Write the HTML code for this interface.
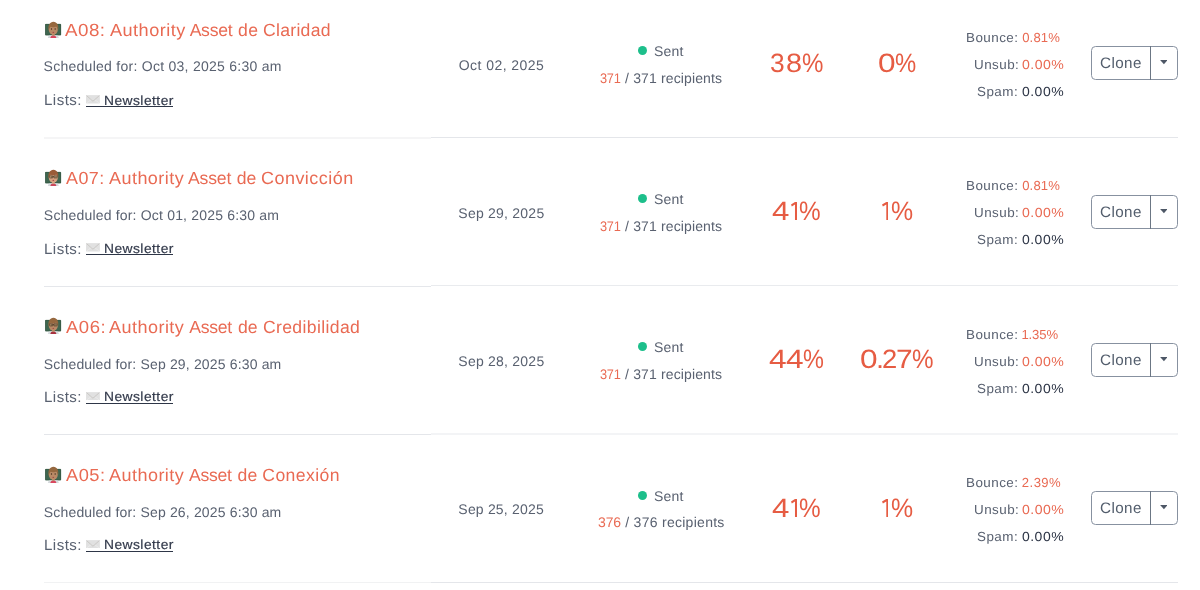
<!DOCTYPE html><html><head><meta charset="utf-8"><title>Broadcasts</title><style>
*{margin:0;padding:0;box-sizing:border-box}
html,body{width:1200px;height:590px;overflow:hidden;background:#fff}
#w{position:absolute;left:0;top:0;width:1200px;height:590px;will-change:transform;filter:blur(.35px)}
body{font-family:"Liberation Sans",sans-serif;color:#596170;position:relative;text-rendering:geometricPrecision}
.row{position:absolute;left:0;width:1200px;height:149px}
.row>*,.x{position:absolute;white-space:nowrap;line-height:1;transform-origin:0 0}
.emo{left:43.7px;top:21px;width:18px;height:18px}
.t{color:#e96a53}
.env{left:86.4px;top:95.2px;width:13.9px;height:8.6px}
.n{color:#333a4b;-webkit-text-stroke:0.2px #333a4b}
.u{left:86px;top:106px;width:87.3px;height:1px;background:#2e3647}
.dot{left:637.7px;top:46px;width:9px;height:9px;border-radius:50%;background:#1dbf8b}
.r{color:#e96a53}
.o,.c{color:#e65c43}
.v{color:#e96a53}
.v.dk{color:#2e3647}
.btn{left:1091px;top:46px;width:87px;height:34px;border:1px solid #8791a0;border-radius:4.5px}
.dv{left:1149.8px;top:46px;height:34px;width:1.3px;background:#6b7684}
.bt{color:#525d6c}
.car{left:1159.5px;top:60px;width:7.8px;height:4.2px}
.hl{position:absolute;height:1px;background:#ececee}
.hr{position:absolute;height:1px;background:#e6e7ea}
</style></head><body><div id="w">
<div class="row" style="top:0.0px">
<svg class="emo" viewBox="0 0 36 36"><rect x="2.400" y="6" width="31.600" height="22.400" rx="1" fill="#3f6650"/><rect x="3" y="6.600" width="30.400" height="21.200" rx=".8" fill="none" stroke="#33543f" stroke-width="1.200"/><path d="M7.800 33.800c.4-3 2-5 4.400-5.400h13c2.400.4 4 2.400 4.400 5.400z" fill="#d5d9dc"/><path d="M12.600 33.800c.4-3.400 2.600-5 6.100-5s5.700 1.600 6.100 5z" fill="#d9475f"/><path d="M15.800 24.500h5.800v4.700c-1.800 1.200-4 1.200-5.800 0z" fill="#b98a66"/><ellipse cx="18.600" cy="17.400" rx="9" ry="9.800" fill="#b98a66"/><path d="M9.200 19.500C7.400 8.500 11.800 1.600 18.800 1.600c7.200 0 11.400 6.900 9.400 17.900-.5-3.700-1.500-6.500-3.200-8.300-3.600 1.500-9.200 1.300-11.800.1-2 1.900-3.300 4.500-4 8.200z" fill="#96683f"/><ellipse cx="15" cy="15.800" rx="1.300" ry="1.500" fill="#3d2a1c"/><ellipse cx="22.300" cy="15.800" rx="1.300" ry="1.500" fill="#3d2a1c"/><ellipse cx="18.600" cy="22.800" rx="1.600" ry="1.100" fill="#a84a48"/></svg>
<svg class="env" viewBox="0 0 28 17"><rect x=".3" y=".3" width="27.400" height="16.400" rx="1.400" fill="#e1e1e1" stroke="#d6d6d6" stroke-width=".6"/><path d="M1 16.200l10-7.400M27 16.200l-10-7.400" fill="none" stroke="#f0f0f0" stroke-width="1.200"/><path d="M1 1l13 11.400L27 1" fill="none" stroke="#c2c0bc" stroke-width="1.500" stroke-linejoin="round"/></svg><div class="u" style="top:106.00px"></div><div class="dot"></div><div class="btn" style="top:46.00px"></div><div class="dv" style="top:46.00px"></div><svg class="car" style="top:60.40px" viewBox="0 0 9 5"><path d="M0 0h9L4.500 5z" fill="#4d5766"/></svg>
</div>
<div class="x t" id="e0_0" style="left:65.48px;top:22px;font-size:17.6px;letter-spacing:0.450px;transform:scaleX(1.067)">A08:</div>
<div class="x t" id="e0_1" style="left:109.50px;top:22px;font-size:17.6px;letter-spacing:0.450px;transform:scaleX(1.030)">Authority</div>
<div class="x t" id="e0_2" style="left:189.66px;top:22px;font-size:17.6px;letter-spacing:-0.279px">Asset</div>
<div class="x t" id="e0_3" style="left:238.02px;top:22px;font-size:17.6px;letter-spacing:0.402px">de</div>
<div class="x t" id="e0_4" style="left:262.91px;top:22px;font-size:17.6px;letter-spacing:0.309px">Claridad</div>
<div class="x s" id="e0_5" style="left:43.58px;top:59px;font-size:14px;letter-spacing:0.267px">Scheduled for: Oct 03, 2025 6:30 am</div>
<div class="x d" id="e0_6" style="left:458.75px;top:58px;font-size:14px;letter-spacing:0.439px">Oct 02, 2025</div>
<div class="x rc r" id="e0_7" style="left:599.59px;top:71px;font-size:14px;letter-spacing:-0.300px;transform:scaleX(0.913)">371</div>
<div class="x rc" id="e0_8" style="left:625.10px;top:71px;font-size:14px;letter-spacing:0.132px">/ 371 recipients</div>
<div class="x v y1" id="e0_9" style="left:1022.14px;top:31px;font-size:13.1px;letter-spacing:0.180px">0.81%</div>
<div class="x l" id="e0_10" style="left:43.89px;top:93px;font-size:15px;letter-spacing:0.450px;transform:scaleX(1.007)">Lists:</div>
<div class="x n" id="e0_11" style="left:103.50px;top:94px;font-size:13.2px;letter-spacing:0.450px;transform:scaleX(1.046)">Newsletter</div>
<div class="x st" id="e0_12" style="left:653.98px;top:44px;font-size:14px;letter-spacing:0.204px">Sent</div>
<div class="x k y1" id="e0_13" style="left:966.14px;top:31px;font-size:13.1px;letter-spacing:0.450px;transform:scaleX(1.025)">Bounce:</div>
<div class="x k y2" id="e0_14" style="left:973.61px;top:58px;font-size:13.1px;letter-spacing:0.450px;transform:scaleX(1.024)">Unsub:</div>
<div class="x k y3" id="e0_15" style="left:977.19px;top:85px;font-size:13.1px;letter-spacing:0.450px;transform:scaleX(1.025)">Spam:</div>
<div class="x v y2" id="e0_16" style="left:1022.34px;top:58px;font-size:13.1px;letter-spacing:0.450px;transform:scaleX(1.076)">0.00%</div>
<div class="x v dk y3" id="e0_17" style="left:1022.24px;top:85px;font-size:13.1px;letter-spacing:0.450px;transform:scaleX(1.068)">0.00%</div>
<div class="x bt" id="e0_18" style="left:1100.00px;top:56px;font-size:15.2px;letter-spacing:0.426px">Clone</div>
<div class="x o" id="e0_19" style="left:770.25px;top:50px;font-size:26.5px;transform:scaleX(0.995)">3</div>
<div class="x o" id="e0_20" style="left:785.70px;top:50px;font-size:26.5px;transform:scaleX(1.086)">8</div>
<div class="x o" id="e0_21" style="left:801.53px;top:50px;font-size:26.5px;transform:scaleX(0.908)">%</div>
<div class="x c" id="e0_22" style="left:878.11px;top:50px;font-size:26.5px;transform:scaleX(1.192)">0</div>
<div class="x c" id="e0_23" style="left:895.00px;top:50px;font-size:26.5px;transform:scaleX(0.899)">%</div>
<div class="row" style="top:148.22px">
<svg class="emo" viewBox="0 0 36 36"><rect x="2.400" y="6" width="31.600" height="22.400" rx="1" fill="#3f6650"/><rect x="3" y="6.600" width="30.400" height="21.200" rx=".8" fill="none" stroke="#33543f" stroke-width="1.200"/><path d="M7.800 33.800c.4-3 2-5 4.400-5.400h13c2.400.4 4 2.400 4.400 5.400z" fill="#d5d9dc"/><path d="M12.600 33.800c.4-3.400 2.600-5 6.100-5s5.700 1.600 6.100 5z" fill="#c9485c"/><path d="M15.800 24.500h5.800v4.700c-1.800 1.200-4 1.200-5.800 0z" fill="#d6a280"/><ellipse cx="18.600" cy="17.400" rx="9" ry="9.800" fill="#d6a280"/><path d="M9.200 19.500C7.400 8.500 11.800 1.600 18.800 1.600c7.200 0 11.400 6.900 9.400 17.900-.5-3.700-1.500-6.500-3.200-8.300-3.600 1.500-9.200 1.300-11.800.1-2 1.900-3.300 4.500-4 8.200z" fill="#9a5c38"/><ellipse cx="15" cy="15.800" rx="1.300" ry="1.500" fill="#3d2a1c"/><ellipse cx="22.300" cy="15.800" rx="1.300" ry="1.500" fill="#3d2a1c"/><ellipse cx="18.600" cy="22.800" rx="1.600" ry="1.100" fill="#a84a48"/><path d="M11.400 13.700h6v4.200h-6zM19.900 13.700h6v4.200h-6zM17.400 15.100h2.500" fill="#efe2a4" fill-opacity=".28" stroke="#3a2a1b" stroke-width="1.200"/></svg>
<svg class="env" viewBox="0 0 28 17"><rect x=".3" y=".3" width="27.400" height="16.400" rx="1.400" fill="#e1e1e1" stroke="#d6d6d6" stroke-width=".6"/><path d="M1 16.200l10-7.400M27 16.200l-10-7.400" fill="none" stroke="#f0f0f0" stroke-width="1.200"/><path d="M1 1l13 11.400L27 1" fill="none" stroke="#c2c0bc" stroke-width="1.500" stroke-linejoin="round"/></svg><div class="u" style="top:106.18px"></div><div class="dot"></div><div class="btn" style="top:46.78px"></div><div class="dv" style="top:46.78px"></div><svg class="car" style="top:61.18px" viewBox="0 0 9 5"><path d="M0 0h9L4.500 5z" fill="#4d5766"/></svg>
</div>
<div class="x t" id="e1_0" style="left:66.48px;top:170px;font-size:17.6px;letter-spacing:0.450px;transform:scaleX(1.019)">A07:</div>
<div class="x t" id="e1_1" style="left:108.61px;top:170px;font-size:17.6px;letter-spacing:0.450px;transform:scaleX(1.023)">Authority</div>
<div class="x t" id="e1_2" style="left:187.99px;top:170px;font-size:17.6px;letter-spacing:-0.161px">Asset</div>
<div class="x t" id="e1_3" style="left:236.80px;top:170px;font-size:17.6px;letter-spacing:-0.031px">de</div>
<div class="x t" id="e1_4" style="left:261.17px;top:170px;font-size:17.6px;letter-spacing:0.450px;transform:scaleX(1.023)">Convicción</div>
<div class="x s" id="e1_5" style="left:43.87px;top:208px;font-size:14px;letter-spacing:0.182px">Scheduled for: Oct 01, 2025 6:30 am</div>
<div class="x d" id="e1_6" style="left:458.37px;top:206px;font-size:14px;letter-spacing:0.228px">Sep 29, 2025</div>
<div class="x rc r" id="e1_7" style="left:599.59px;top:219px;font-size:14px;letter-spacing:-0.300px;transform:scaleX(0.913)">371</div>
<div class="x rc" id="e1_8" style="left:625.10px;top:219px;font-size:14px;letter-spacing:0.132px">/ 371 recipients</div>
<div class="x v y1" id="e1_9" style="left:1022.14px;top:179px;font-size:13.1px;letter-spacing:0.180px">0.81%</div>
<div class="x l" id="e1_10" style="left:43.89px;top:242px;font-size:15px;letter-spacing:0.450px;transform:scaleX(1.007)">Lists:</div>
<div class="x n" id="e1_11" style="left:103.50px;top:242px;font-size:13.2px;letter-spacing:0.450px;transform:scaleX(1.046)">Newsletter</div>
<div class="x st" id="e1_12" style="left:653.98px;top:192px;font-size:14px;letter-spacing:0.204px">Sent</div>
<div class="x k y1" id="e1_13" style="left:966.14px;top:179px;font-size:13.1px;letter-spacing:0.450px;transform:scaleX(1.025)">Bounce:</div>
<div class="x k y2" id="e1_14" style="left:973.61px;top:206px;font-size:13.1px;letter-spacing:0.450px;transform:scaleX(1.024)">Unsub:</div>
<div class="x k y3" id="e1_15" style="left:977.19px;top:233px;font-size:13.1px;letter-spacing:0.450px;transform:scaleX(1.025)">Spam:</div>
<div class="x v y2" id="e1_16" style="left:1022.34px;top:206px;font-size:13.1px;letter-spacing:0.450px;transform:scaleX(1.076)">0.00%</div>
<div class="x v dk y3" id="e1_17" style="left:1022.24px;top:233px;font-size:13.1px;letter-spacing:0.450px;transform:scaleX(1.068)">0.00%</div>
<div class="x bt" id="e1_18" style="left:1100.00px;top:205px;font-size:15.2px;letter-spacing:0.426px">Clone</div>
<div class="x o" id="e1_19" style="left:771.72px;top:198px;font-size:26.5px;transform:scaleX(1.177)">4</div>
<svg class="x" id="e1_20" style="left:790.60px;top:201.60px;width:6.30px;height:18.4px" viewBox="0 0 6.8 18.4" preserveAspectRatio="none"><path d="M4.300 0H6.800V18.400H4.300V2.600L.9 4.600 0 2.600z" fill="#e65c43"/></svg>
<div class="x o" id="e1_21" style="left:798.50px;top:198px;font-size:26.5px;transform:scaleX(0.917)">%</div>
<svg class="x" id="e1_22" style="left:881.50px;top:201.60px;width:6.80px;height:18.4px" viewBox="0 0 6.8 18.4" preserveAspectRatio="none"><path d="M4.300 0H6.800V18.400H4.300V2.600L.9 4.600 0 2.600z" fill="#e65c43"/></svg>
<div class="x c" id="e1_23" style="left:890.78px;top:198px;font-size:26.5px;transform:scaleX(0.938)">%</div>
<div class="row" style="top:296.44px">
<svg class="emo" viewBox="0 0 36 36"><rect x="2.400" y="6" width="31.600" height="22.400" rx="1" fill="#3f6650"/><rect x="3" y="6.600" width="30.400" height="21.200" rx=".8" fill="none" stroke="#33543f" stroke-width="1.200"/><path d="M7.800 33.800c.4-3 2-5 4.400-5.400h13c2.400.4 4 2.400 4.400 5.400z" fill="#d5d9dc"/><path d="M12.600 33.800c.4-3.400 2.600-5 6.100-5s5.700 1.600 6.100 5z" fill="#a8323f"/><path d="M15.800 24.500h5.800v4.700c-1.800 1.200-4 1.200-5.800 0z" fill="#b98a66"/><ellipse cx="18.600" cy="17.400" rx="9" ry="9.800" fill="#b98a66"/><path d="M9.200 19.500C7.400 8.500 11.800 1.600 18.800 1.600c7.200 0 11.400 6.900 9.400 17.900-.5-3.700-1.500-6.500-3.200-8.300-3.600 1.500-9.200 1.300-11.800.1-2 1.900-3.300 4.500-4 8.200z" fill="#96683f"/><ellipse cx="15" cy="15.800" rx="1.300" ry="1.500" fill="#3d2a1c"/><ellipse cx="22.300" cy="15.800" rx="1.300" ry="1.500" fill="#3d2a1c"/><ellipse cx="18.600" cy="22.800" rx="1.600" ry="1.100" fill="#a84a48"/><path d="M11.400 13.700h6v4.200h-6zM19.900 13.700h6v4.200h-6zM17.400 15.100h2.500" fill="#efe2a4" fill-opacity=".28" stroke="#3a2a1b" stroke-width="1.200"/></svg>
<svg class="env" viewBox="0 0 28 17"><rect x=".3" y=".3" width="27.400" height="16.400" rx="1.400" fill="#e1e1e1" stroke="#d6d6d6" stroke-width=".6"/><path d="M1 16.200l10-7.400M27 16.200l-10-7.400" fill="none" stroke="#f0f0f0" stroke-width="1.200"/><path d="M1 1l13 11.400L27 1" fill="none" stroke="#c2c0bc" stroke-width="1.500" stroke-linejoin="round"/></svg><div class="u" style="top:106.56px"></div><div class="dot"></div><div class="btn" style="top:46.56px"></div><div class="dv" style="top:46.56px"></div><svg class="car" style="top:60.96px" viewBox="0 0 9 5"><path d="M0 0h9L4.500 5z" fill="#4d5766"/></svg>
</div>
<div class="x t" id="e2_0" style="left:65.51px;top:319px;font-size:17.6px;letter-spacing:0.450px;transform:scaleX(1.054)">A06:</div>
<div class="x t" id="e2_1" style="left:109.00px;top:319px;font-size:17.6px;letter-spacing:0.450px;transform:scaleX(1.025)">Authority</div>
<div class="x t" id="e2_2" style="left:189.23px;top:319px;font-size:17.6px;letter-spacing:-0.256px">Asset</div>
<div class="x t" id="e2_3" style="left:238.02px;top:319px;font-size:17.6px;letter-spacing:0.052px">de</div>
<div class="x t" id="e2_4" style="left:262.91px;top:319px;font-size:17.6px;letter-spacing:0.372px">Credibilidad</div>
<div class="x s" id="e2_5" style="left:43.87px;top:357px;font-size:14px;letter-spacing:0.161px">Scheduled for: Sep 29, 2025 6:30 am</div>
<div class="x d" id="e2_6" style="left:458.37px;top:354px;font-size:14px;letter-spacing:0.228px">Sep 28, 2025</div>
<div class="x rc r" id="e2_7" style="left:599.59px;top:367px;font-size:14px;letter-spacing:-0.300px;transform:scaleX(0.913)">371</div>
<div class="x rc" id="e2_8" style="left:625.10px;top:367px;font-size:14px;letter-spacing:0.132px">/ 371 recipients</div>
<div class="x v y1" id="e2_9" style="left:1021.45px;top:328px;font-size:13.1px;letter-spacing:-0.121px">1.35%</div>
<div class="x l" id="e2_10" style="left:43.89px;top:390px;font-size:15px;letter-spacing:0.450px;transform:scaleX(1.007)">Lists:</div>
<div class="x n" id="e2_11" style="left:103.50px;top:390px;font-size:13.2px;letter-spacing:0.450px;transform:scaleX(1.046)">Newsletter</div>
<div class="x st" id="e2_12" style="left:653.98px;top:340px;font-size:14px;letter-spacing:0.204px">Sent</div>
<div class="x k y1" id="e2_13" style="left:966.14px;top:328px;font-size:13.1px;letter-spacing:0.450px;transform:scaleX(1.025)">Bounce:</div>
<div class="x k y2" id="e2_14" style="left:973.61px;top:355px;font-size:13.1px;letter-spacing:0.450px;transform:scaleX(1.024)">Unsub:</div>
<div class="x k y3" id="e2_15" style="left:977.19px;top:382px;font-size:13.1px;letter-spacing:0.450px;transform:scaleX(1.025)">Spam:</div>
<div class="x v y2" id="e2_16" style="left:1022.34px;top:355px;font-size:13.1px;letter-spacing:0.450px;transform:scaleX(1.076)">0.00%</div>
<div class="x v dk y3" id="e2_17" style="left:1022.24px;top:382px;font-size:13.1px;letter-spacing:0.450px;transform:scaleX(1.068)">0.00%</div>
<div class="x bt" id="e2_18" style="left:1100.00px;top:353px;font-size:15.2px;letter-spacing:0.426px">Clone</div>
<div class="x o" id="e2_19" style="left:769.19px;top:346px;font-size:26.5px;transform:scaleX(1.195)">4</div>
<div class="x o" id="e2_20" style="left:785.95px;top:346px;font-size:26.5px;transform:scaleX(1.191)">4</div>
<div class="x o" id="e2_21" style="left:803.00px;top:346px;font-size:26.5px;transform:scaleX(0.887)">%</div>
<div class="x c" id="e2_22" style="left:860.11px;top:346px;font-size:26.5px;transform:scaleX(1.192)">0</div>
<div class="x c" id="e2_23" style="left:876.21px;top:346px;font-size:26.5px;transform:scaleX(1.094)">.</div>
<div class="x c" id="e2_24" style="left:881.76px;top:346px;font-size:26.5px;transform:scaleX(1.034)">2</div>
<div class="x c" id="e2_25" style="left:896.03px;top:346px;font-size:26.5px;transform:scaleX(1.128)">7</div>
<div class="x c" id="e2_26" style="left:912.00px;top:346px;font-size:26.5px;transform:scaleX(0.913)">%</div>
<div class="row" style="top:444.66px">
<svg class="emo" viewBox="0 0 36 36"><rect x="2.400" y="6" width="31.600" height="22.400" rx="1" fill="#3f6650"/><rect x="3" y="6.600" width="30.400" height="21.200" rx=".8" fill="none" stroke="#33543f" stroke-width="1.200"/><path d="M7.800 33.800c.4-3 2-5 4.400-5.400h13c2.400.4 4 2.400 4.400 5.400z" fill="#d5d9dc"/><path d="M12.600 33.800c.4-3.400 2.600-5 6.100-5s5.700 1.600 6.100 5z" fill="#d9475f"/><path d="M15.800 24.500h5.800v4.700c-1.800 1.200-4 1.200-5.800 0z" fill="#b98a66"/><ellipse cx="18.600" cy="17.400" rx="9" ry="9.800" fill="#b98a66"/><path d="M9.200 19.500C7.400 8.500 11.800 1.600 18.800 1.600c7.200 0 11.400 6.900 9.400 17.900-.5-3.700-1.500-6.500-3.200-8.300-3.600 1.500-9.200 1.300-11.800.1-2 1.900-3.300 4.500-4 8.200z" fill="#96683f"/><ellipse cx="15" cy="15.800" rx="1.300" ry="1.500" fill="#3d2a1c"/><ellipse cx="22.300" cy="15.800" rx="1.300" ry="1.500" fill="#3d2a1c"/><ellipse cx="18.600" cy="22.800" rx="1.600" ry="1.100" fill="#a84a48"/></svg>
<svg class="env" viewBox="0 0 28 17"><rect x=".3" y=".3" width="27.400" height="16.400" rx="1.400" fill="#e1e1e1" stroke="#d6d6d6" stroke-width=".6"/><path d="M1 16.200l10-7.400M27 16.200l-10-7.400" fill="none" stroke="#f0f0f0" stroke-width="1.200"/><path d="M1 1l13 11.400L27 1" fill="none" stroke="#c2c0bc" stroke-width="1.500" stroke-linejoin="round"/></svg><div class="u" style="top:106.34px"></div><div class="dot"></div><div class="btn" style="top:46.34px"></div><div class="dv" style="top:46.34px"></div><svg class="car" style="top:60.74px" viewBox="0 0 9 5"><path d="M0 0h9L4.500 5z" fill="#4d5766"/></svg>
</div>
<div class="x t" id="e3_0" style="left:65.50px;top:467px;font-size:17.6px;letter-spacing:0.450px;transform:scaleX(1.038)">A05:</div>
<div class="x t" id="e3_1" style="left:108.72px;top:467px;font-size:17.6px;letter-spacing:0.450px;transform:scaleX(1.024)">Authority</div>
<div class="x t" id="e3_2" style="left:188.99px;top:467px;font-size:17.6px;letter-spacing:-0.300px">Asset</div>
<div class="x t" id="e3_3" style="left:237.54px;top:467px;font-size:17.6px;letter-spacing:0.092px">de</div>
<div class="x t" id="e3_4" style="left:262.27px;top:467px;font-size:17.6px;letter-spacing:0.413px">Conexión</div>
<div class="x s" id="e3_5" style="left:43.87px;top:505px;font-size:14px;letter-spacing:0.161px">Scheduled for: Sep 26, 2025 6:30 am</div>
<div class="x d" id="e3_6" style="left:458.37px;top:502px;font-size:14px;letter-spacing:0.184px">Sep 25, 2025</div>
<div class="x rc r" id="e3_7" style="left:598.02px;top:515px;font-size:14px;letter-spacing:-0.157px">376</div>
<div class="x rc" id="e3_8" style="left:625.27px;top:515px;font-size:14px;letter-spacing:0.277px">/ 376 recipients</div>
<div class="x v y1" id="e3_9" style="left:1021.86px;top:476px;font-size:13.1px;letter-spacing:0.437px">2.39%</div>
<div class="x l" id="e3_10" style="left:43.89px;top:538px;font-size:15px;letter-spacing:0.450px;transform:scaleX(1.007)">Lists:</div>
<div class="x n" id="e3_11" style="left:103.50px;top:538px;font-size:13.2px;letter-spacing:0.450px;transform:scaleX(1.046)">Newsletter</div>
<div class="x st" id="e3_12" style="left:653.98px;top:489px;font-size:14px;letter-spacing:0.204px">Sent</div>
<div class="x k y1" id="e3_13" style="left:966.14px;top:476px;font-size:13.1px;letter-spacing:0.450px;transform:scaleX(1.025)">Bounce:</div>
<div class="x k y2" id="e3_14" style="left:973.61px;top:503px;font-size:13.1px;letter-spacing:0.450px;transform:scaleX(1.024)">Unsub:</div>
<div class="x k y3" id="e3_15" style="left:977.19px;top:530px;font-size:13.1px;letter-spacing:0.450px;transform:scaleX(1.025)">Spam:</div>
<div class="x v y2" id="e3_16" style="left:1022.34px;top:503px;font-size:13.1px;letter-spacing:0.450px;transform:scaleX(1.076)">0.00%</div>
<div class="x v dk y3" id="e3_17" style="left:1022.24px;top:530px;font-size:13.1px;letter-spacing:0.450px;transform:scaleX(1.068)">0.00%</div>
<div class="x bt" id="e3_18" style="left:1100.00px;top:501px;font-size:15.2px;letter-spacing:0.426px">Clone</div>
<div class="x o" id="e3_19" style="left:771.72px;top:495px;font-size:26.5px;transform:scaleX(1.177)">4</div>
<svg class="x" id="e3_20" style="left:790.60px;top:498.60px;width:6.30px;height:18.4px" viewBox="0 0 6.8 18.4" preserveAspectRatio="none"><path d="M4.300 0H6.800V18.400H4.300V2.600L.9 4.600 0 2.600z" fill="#e65c43"/></svg>
<div class="x o" id="e3_21" style="left:798.50px;top:495px;font-size:26.5px;transform:scaleX(0.917)">%</div>
<svg class="x" id="e3_22" style="left:881.50px;top:498.60px;width:6.80px;height:18.4px" viewBox="0 0 6.8 18.4" preserveAspectRatio="none"><path d="M4.300 0H6.800V18.400H4.300V2.600L.9 4.600 0 2.600z" fill="#e65c43"/></svg>
<div class="x c" id="e3_23" style="left:890.78px;top:495px;font-size:26.5px;transform:scaleX(0.938)">%</div>
<div class="hl" style="left:44px;width:387px;top:137px;height:2px;background:#f5f5f6"></div>
<div class="hl" style="left:431px;width:747px;top:137px;height:1px;background:#e4e6ea"></div>
<div class="hl" style="left:44px;width:387px;top:286px;height:1px;background:#e5e7eb"></div>
<div class="hl" style="left:431px;width:747px;top:285px;height:1px;background:#e9ebee"></div>
<div class="hl" style="left:44px;width:387px;top:434px;height:1px;background:#e4e6ea"></div>
<div class="hl" style="left:431px;width:747px;top:433px;height:2px;background:#f3f4f6"></div>
<div class="hl" style="left:44px;width:387px;top:582px;height:1px;background:#f1f2f3"></div>
<div class="hl" style="left:431px;width:747px;top:582px;height:1px;background:#e4e6ea"></div>
</div></body></html>
